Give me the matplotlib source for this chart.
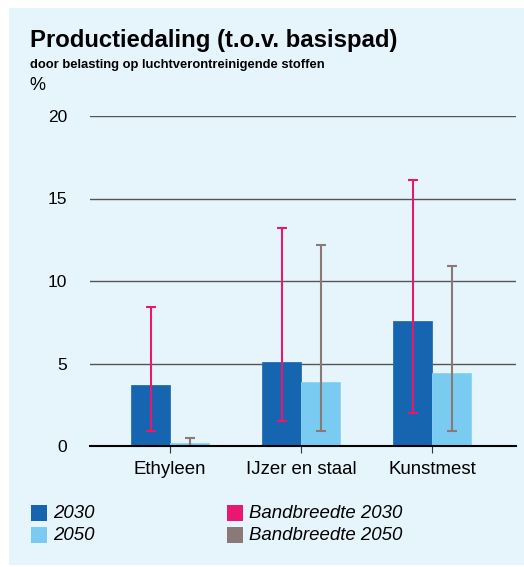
import matplotlib.pyplot as plt
import numpy as np
from matplotlib.patches import Rectangle

plt.rcParams['font.family'] = ['Liberation Sans', 'DejaVu Sans']

categories = ['Ethyleen', 'IJzer en staal', 'Kunstmest']
values_2030 = [3.7, 5.1, 7.6]
values_2050 = [0.2, 3.9, 4.4]
band_2030_low = [0.9, 1.5, 2.0]
band_2030_high = [8.4, 13.2, 16.1]
band_2050_low = [0.0, 0.9, 0.9]
band_2050_high = [0.5, 12.2, 10.9]
yticks = [0, 5, 10, 15, 20]

c2030 = '#1565b0'
c2050 = '#7acbf1'
cband30 = '#e8176f'
cband50 = '#8a7976'
bg = '#e6f4fc'

W, H = 524, 567
fig = plt.figure(figsize=(W / 100, H / 100), dpi=100)
fig.patch.set_facecolor('white')
fig.add_artist(Rectangle((9 / W, 2 / H), 1, 1 - 10 / H, transform=fig.transFigure,
                         facecolor=bg, edgecolor='none', zorder=0))

ax = fig.add_axes([90 / W, (H - 446) / H, (516 - 90) / W, (446 - 116) / H])
ax.set_facecolor('none')

x = np.arange(len(categories))
w = 39 / 131
ax.bar(x - w / 2, values_2030, w, color=c2030, edgecolor='#2a6fb0', linewidth=0.6, zorder=3)
ax.bar(x + w / 2, values_2050, w, color=c2050, edgecolor='#8fd3f3', linewidth=0.6, zorder=3)

m30 = np.array(values_2030)
m50 = np.array(values_2050)
ax.errorbar(x - w / 2, m30, yerr=[m30 - np.array(band_2030_low), np.array(band_2030_high) - m30],
            fmt='none', ecolor=cband30, elinewidth=1.5, capsize=3.3, capthick=1.5, zorder=4)
ax.errorbar(x + w / 2, m50, yerr=[m50 - np.array(band_2050_low), np.array(band_2050_high) - m50],
            fmt='none', ecolor=cband50, elinewidth=1.5, capsize=3.3, capthick=1.5, zorder=4)

ax.set_xlim((90 - 170) / 131, (516 - 170) / 131)
ax.set_ylim(0, 20)
ax.set_yticks(yticks)
ax.yaxis.grid(True, color='#555555', linewidth=1.0, zorder=1)
ax.set_axisbelow(True)
for s in ['top', 'right', 'left']:
    ax.spines[s].set_visible(False)
ax.spines['bottom'].set_color('black')
ax.spines['bottom'].set_linewidth(1.5)
ax.spines['bottom'].set_zorder(5)
ax.tick_params(axis='y', length=0, pad=16.5, labelsize=12.5)
ax.tick_params(axis='x', length=5, width=0.8, color='#333333', pad=6, labelsize=13.4)
ax.set_xticks(x)
ax.set_xticklabels(categories)

fig.text(30 / W, 1 - 40 / H, 'Productiedaling (t.o.v. basispad)', fontsize=17.2,
         fontweight='bold', va='center', ha='left')
fig.text(30 / W, 1 - 65 / H, 'door belasting op luchtverontreinigende stoffen', fontsize=9.4,
         fontweight='bold', va='center', ha='left')
fig.text(29 / W, 1 - 86 / H, '%', fontsize=13, va='center', ha='left')

legend_items = [
    (31, 513, c2030, '2030'),
    (31, 535, c2050, '2050'),
    (227, 513, cband30, 'Bandbreedte 2030'),
    (227, 535, cband50, 'Bandbreedte 2050'),
]
for lx, ly, col, lab in legend_items:
    fig.add_artist(Rectangle((lx / W, 1 - (ly + 8) / H), 16 / W, 16 / H,
                             transform=fig.transFigure, facecolor=col,
                             edgecolor='none', zorder=2))
    fig.text((lx + 22) / W, 1 - ly / H, lab, fontsize=13.4, style='italic',
             va='center', ha='left')

fig.savefig('out.png', dpi=100, facecolor=fig.get_facecolor())
